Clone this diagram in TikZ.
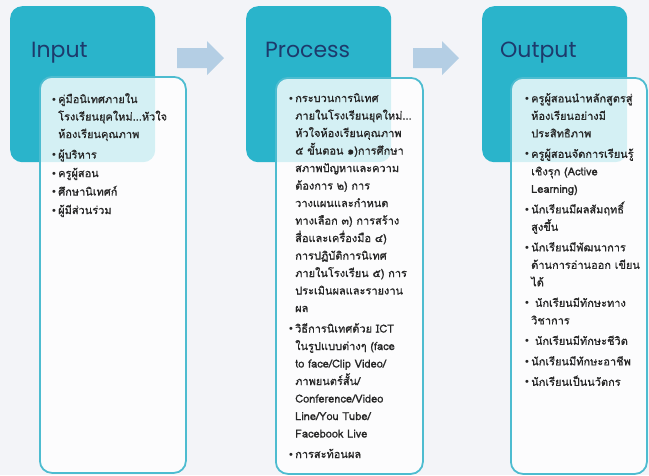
\documentclass[tikz,border=0pt]{standalone}
\usepackage{fontspec}
\setmainfont{Liberation Sans}
\newfontfamily\thaifont[Script=Thai,FakeBold=0.8]{Loma}
\newfontfamily\titlefont{Poppins}
\newfontfamily\bulletfont{Liberation Sans}
\usetikzlibrary{positioning}

\definecolor{pagebg}{HTML}{F3F4F8}
\definecolor{headteal}{HTML}{2AB4CB}
\definecolor{boxline}{HTML}{4DBCD0}
\definecolor{titlenavy}{HTML}{1D3A6C}
\definecolor{arrowblue}{HTML}{B4CEE4}
\definecolor{listgray}{HTML}{262626}

\newcommand{\bl}{\makebox[6pt][l]{\bulletfont\textbullet}}
\newcommand{\ind}{\hspace*{6pt}}

\tikzset{
  headbox/.style={fill=headteal, rounded corners=12pt, minimum width=145pt,
    minimum height=156pt, anchor=north west, inner sep=0pt},
  bodybox/.style={fill=white, fill opacity=0.8, draw=boxline, draw opacity=1,
    line width=1.8pt, rounded corners=12pt, minimum height=396pt,
    anchor=north west, inner sep=0pt},
  headtext/.style={font=\titlefont\fontsize{22}{26}\selectfont, text=titlenavy,
    anchor=base west, inner sep=0pt},
  listtext/.style={font=\thaifont\fontsize{11}{17.5}\selectfont, text=listgray,
    align=left, anchor=north west, inner sep=0pt},
  flowarrow/.style={fill=arrowblue}
}

\begin{document}
\begin{tikzpicture}[x=1pt,y=-1pt]
  \fill[pagebg] (0,0) rectangle (649,475);
  \useasboundingbox (0,0) rectangle (649,475);

  % heads
  \node[headbox] (inHead) at (10,6) {};
  \node[headbox] (procHead) at (246,6) {};
  \node[headbox] (outHead) at (482,6) {};
  \node[headtext] (inTitle) at (31,57) {Input};
  \node[headtext] (procTitle) at (265,57) {Process};
  \node[headtext] (outTitle) at (500,57) {Output};

  % arrows
  \fill[flowarrow] (177,48) -- (207,48) -- (207,41) -- (224,58) -- (207,75) -- (207,68) -- (177,68) -- cycle;
  \fill[flowarrow] (413,48) -- (442,48) -- (442,41) -- (459,58) -- (442,75) -- (442,68) -- (413,68) -- cycle;

  % bodies
  \node[bodybox, minimum width=146pt] (inBody) at (39,76) {};
  \node[bodybox, minimum width=147pt] (procBody) at (275,77) {};
  \node[bodybox, minimum width=136pt] (outBody) at (510,77) {};

  \node[listtext] (inList) at (52,93) {%
    \bl คู่มือนิเทศภายใน\\
    \ind โรงเรียนยุคใหม่...หัวใจ\\
    \ind ห้องเรียนคุณภาพ\\[3pt]
    \bl ผู้บริหาร\\[1pt]
    \bl ครูผู้สอน\\[1pt]
    \bl ศึกษานิเทศก์\\[1pt]
    \bl ผู้มีส่วนร่วม};

  \node[listtext] (procList) at (289,93) {%
    \bl กระบวนการนิเทศ\\
    \ind ภายในโรงเรียนยุคใหม่...\\
    \ind หัวใจห้องเรียนคุณภาพ\\
    \ind ๕ ขั้นตอน ๑)การศึกษา\\
    \ind สภาพปัญหาและความ\\
    \ind ต้องการ ๒) การ\\
    \ind วางแผนและกำหนด\\
    \ind ทางเลือก ๓) การสร้าง\\
    \ind สื่อและเครื่องมือ ๔)\\
    \ind การปฏิบัติการนิเทศ\\
    \ind ภายในโรงเรียน ๕) การ\\
    \ind ประเมินผลและรายงาน\\
    \ind ผล\\[3pt]
    \bl วิธีการนิเทศด้วย ICT\\
    \ind ในรูปแบบต่างๆ (face\\
    \ind to face/Clip Video/\\
    \ind ภาพยนตร์สั้น/\\
    \ind Conference/Video\\
    \ind Line/You Tube/\\
    \ind Facebook Live\\[3pt]
    \bl การสะท้อนผล};

  \node[listtext] (outList) at (525,93) {%
    \bl ครูผู้สอนนำหลักสูตรสู่\\
    \ind ห้องเรียนอย่างมี\\
    \ind ประสิทธิภาพ\\[3pt]
    \bl ครูผู้สอนจัดการเรียนรู้\\
    \ind เชิงรุก (Active\\
    \ind Learning)\\[3pt]
    \bl นักเรียนมีผลสัมฤทธิ์\\
    \ind สูงขึ้น\\[3pt]
    \bl นักเรียนมีพัฒนาการ\\
    \ind ด้านการอ่านออก เขียน\\
    \ind ได้\\[3pt]
    \bl \ นักเรียนมีทักษะทาง\\
    \ind วิชาการ\\[3pt]
    \bl \ นักเรียนมีทักษะชีวิต\\[3pt]
    \bl นักเรียนมีทักษะอาชีพ\\[3pt]
    \bl นักเรียนเป็นนวัตกร};
\end{tikzpicture}
\end{document}
